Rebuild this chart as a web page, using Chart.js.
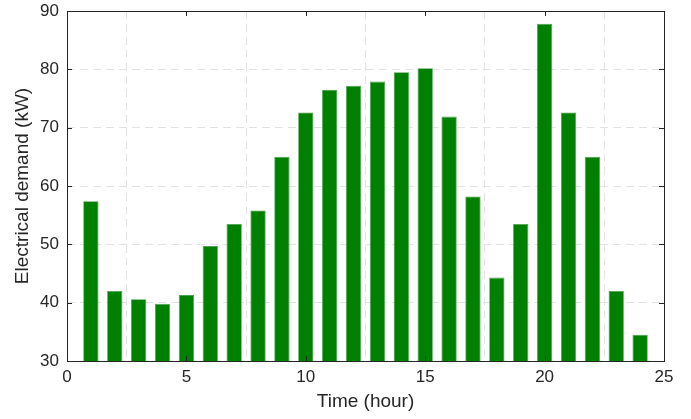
<!DOCTYPE html>
<html>
<head>
<meta charset="utf-8">
<script src="https://cdn.jsdelivr.net/npm/chart.js@4.4.1/dist/chart.umd.min.js"></script>
<style>
  html, body { margin: 0; padding: 0; background: #fff; }
  #wrap { width: 691px; height: 419px; }
</style>
</head>
<body>
<div id="wrap"><canvas id="myChart"></canvas></div>
<script>
// hourly demand
const hours = [1,2,3,4,5,6,7,8,9,10,11,12,13,14,15,16,17,18,19,20,21,22,23,24]
const demand = [57.4,42.0,40.6,39.8,41.3,49.7,53.5,55.8,65.0,72.6,76.5,77.2,
                77.9,79.5,80.2,71.9,58.2,44.3,53.5,87.8,72.6,65.0,42.0,34.5]
const xTicks = [0,5,10,15,20,25]
const yTicks = [30,40,50,60,70,80,90]

const axisColor = '#262626'
const gridDash = [8,5]

// box around the axes + inward tick marks, like the matlab look
const boxPlugin = {
    id: 'box',
    afterDraw(chart) {
        const ctx = chart.ctx
        const a = chart.chartArea
        const xs = chart.scales.x, ys = chart.scales.y
        ctx.save()
        ctx.strokeStyle = axisColor
        ctx.lineWidth = 1
        ctx.strokeRect(a.left + 0.5, a.top + 0.5, a.right - a.left, a.bottom - a.top)
        ctx.beginPath()
        xTicks.forEach((t)=> {
            const px = Math.round(xs.getPixelForValue(t)) + 0.5
            ctx.moveTo(px, a.bottom); ctx.lineTo(px, a.bottom - 5)
            ctx.moveTo(px, a.top); ctx.lineTo(px, a.top + 5)
        })
        yTicks.forEach((t)=> {
            const py = Math.round(ys.getPixelForValue(t)) + 0.5
            ctx.moveTo(a.left, py); ctx.lineTo(a.left + 5, py)
            ctx.moveTo(a.right, py); ctx.lineTo(a.right - 5, py)
        })
        ctx.stroke()
        ctx.restore()
    }
}

const ctx = document.getElementById('myChart')
new Chart(ctx, {
    type: 'bar',
    data: {
        datasets: [{
            data: hours.map((h, i)=> ({x: h, y: demand[i]})),
            backgroundColor: '#008000',
            borderColor: '#4aa24a',
            borderWidth: 0.8,
            barPercentage: 0.8,
            categoryPercentage: 0.8
        }]
    },
    plugins: [boxPlugin],
    options: {
        responsive: true,
        maintainAspectRatio: false,
        animation: false,
        layout: { padding: { left: 0, right: 27, top: 11, bottom: 0 } },
        plugins: { legend: { display: false }, tooltip: { enabled: false } },
        scales: {
            x: {
                type: 'linear',
                min: 0, max: 25,
                offset: false,
                afterBuildTicks: (scale)=> { scale.ticks = xTicks.map((v)=> ({value: v})) },
                afterFit: (scale)=> { scale.height = 58; scale.paddingLeft = 0; scale.paddingRight = 0 },
                grid: { color: '#e2e2e2', lineWidth: 1, drawTicks: false },
                border: { display: false, dash: gridDash },
                ticks: { padding: 6, color: axisColor, font: { family: 'Liberation Sans', size: 17 } },
                title: { display: true, text: 'Time (hour)', color: axisColor,
                         font: { family: 'Liberation Sans', size: 19 }, padding: { top: 0, bottom: 6 } }
            },
            y: {
                min: 30, max: 90,
                afterBuildTicks: (scale)=> { scale.ticks = yTicks.map((v)=> ({value: v})) },
                afterFit: (scale)=> { scale.width = 67; scale.paddingTop = 0; scale.paddingBottom = 0 },
                grid: { color: '#e2e2e2', lineWidth: 1, drawTicks: false },
                border: { display: false, dash: gridDash },
                ticks: { padding: 8, color: axisColor, font: { family: 'Liberation Sans', size: 17 } },
                title: { display: true, text: 'Electrical demand (kW)', color: axisColor,
                         font: { family: 'Liberation Sans', size: 19 }, padding: { top: 11, bottom: 0 } }
            }
        }
    }
})
</script>
</body>
</html>
